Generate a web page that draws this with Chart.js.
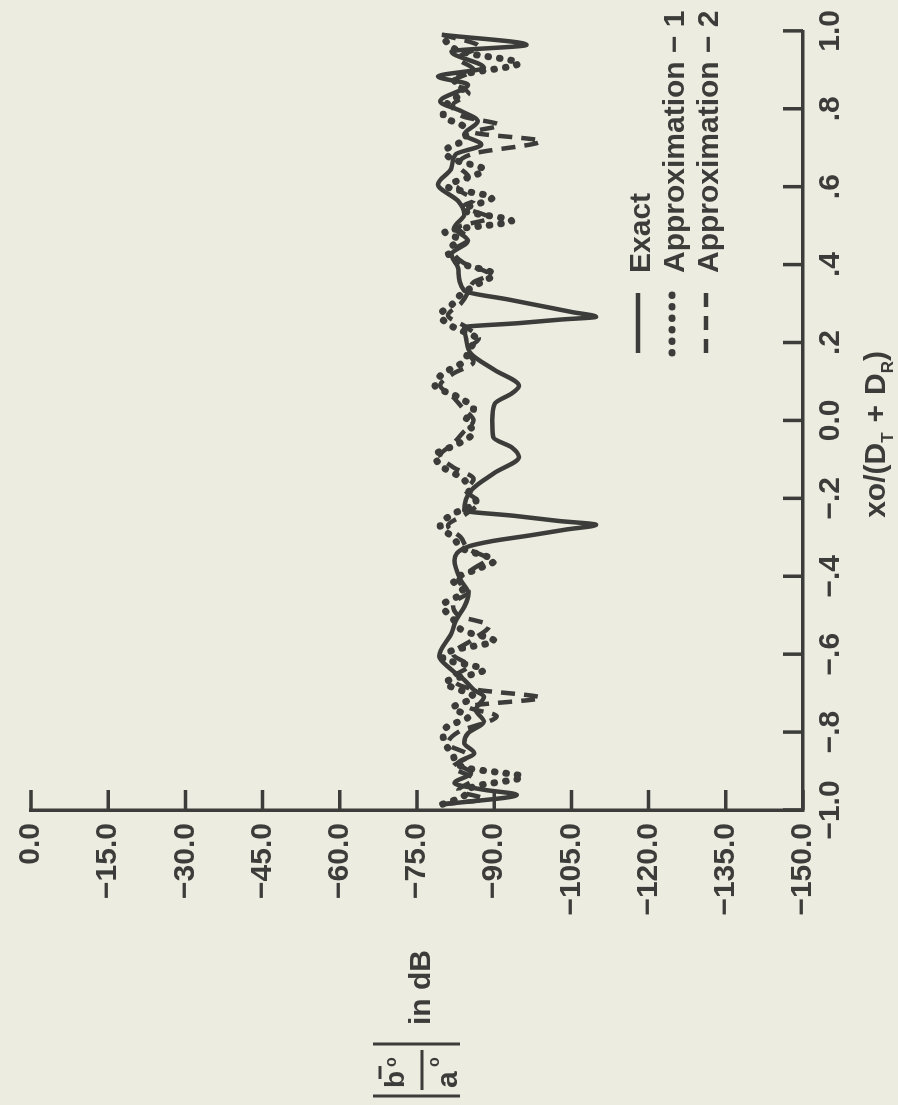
<!DOCTYPE html>
<html>
<head>
<meta charset="utf-8">
<title>Exact vs approximations</title>
<script src="https://cdn.jsdelivr.net/npm/chart.js@4.4.1/dist/chart.umd.min.js"></script>
<style>
    html, body { margin: 0; padding: 0; background: #ecece0; }
    body { width: 898px; height: 1105px; overflow: hidden; position: relative; }
    /* the scanned figure is printed on its side: draw it upright, then turn it */
    #plot {
        position: absolute; left: 0; top: 0; width: 1105px; height: 898px;
        transform-origin: 0 0; transform: translate(0, 1105px) rotate(-90deg);
    }
    #plot canvas { display: block; }
</style>
</head>
<body>
<div id="plot"><canvas id="tr-chart" width="1105" height="898"></canvas></div>
<script>
const xTickValues = [-1, -0.8, -0.6, -0.4, -0.2, 0, 0.2, 0.4, 0.6, 0.8, 1];
const xTickLabels = ["\u22121.0", "\u2212.8", "\u2212.6", "\u2212.4", "\u2212.2", "0.0", ".2", ".4", ".6", ".8", "1.0"];
const yTickValues = [0, -15, -30, -45, -60, -75, -90, -105, -120, -135, -150];
const yTickLabels = ["0.0", "\u221215.0", "\u221230.0", "\u221245.0", "\u221260.0", "\u221275.0",
    "\u221290.0", "\u2212105.0", "\u2212120.0", "\u2212135.0", "\u2212150.0"];

const seriesLabels = ["Exact", "Approximation \u2212 1", "Approximation \u2212 2"];

const exactXo = [-0.985, -0.961, -0.948, -0.931, -0.905, -0.880, -0.854, -0.828, -0.803, -0.773,
    -0.743, -0.709, -0.692, -0.666, -0.640, -0.605, -0.546, -0.512, -0.478, -0.444,
    -0.410, -0.359, -0.324, -0.31, -0.295, -0.28, -0.268, -0.258, -0.245, -0.231,
    -0.180, -0.135, -0.094, -0.07, -0.043, 0.0, 0.043, 0.07, 0.089, 0.13,
    0.171, 0.213, 0.239, 0.25, 0.259, 0.266, 0.278, 0.29, 0.31, 0.333,
    0.39, 0.426, 0.461, 0.495, 0.529, 0.563, 0.606, 0.648, 0.683, 0.708,
    0.734, 0.768, 0.794, 0.819, 0.862, 0.883, 0.905, 0.947, 0.964, 0.99];
const exactDb = [-80.5, -94.4, -88, -82.3, -85.5, -83, -86.1, -84.2, -84.9, -88,
    -86.4, -88, -86.1, -84.2, -81.7, -79.3, -81.7, -82.6, -84.2, -85,
    -83.5, -82.3, -84.9, -89.5, -97, -104, -109.8, -102.5, -94, -84.2,
    -85.5, -90, -94.8, -93.5, -89.8, -89.6, -90.1, -93.5, -94.8, -90,
    -85.5, -84.5, -84.2, -95, -103, -109.8, -105.2, -100.6, -92.9, -84.2,
    -83, -81.7, -84.9, -82.3, -84.2, -83, -79.1, -81.7, -82.5, -87.5,
    -84.2, -86.8, -83.6, -79.5, -84.9, -79.1, -88, -81.7, -96.3, -79.8];

const approx1Xo = [-0.985, -0.965, -0.94, -0.915, -0.89, -0.86, -0.83, -0.80, -0.785, -0.76,
    -0.738, -0.71, -0.673, -0.64, -0.61, -0.59, -0.566, -0.54, -0.51, -0.475,
    -0.44, -0.41, -0.385, -0.36, -0.33, -0.30, -0.27, -0.24, -0.21, -0.18,
    -0.15, -0.12, -0.09, -0.06, -0.03, 0.0, 0.03, 0.06, 0.09, 0.12,
    0.15, 0.18, 0.21, 0.24, 0.27, 0.30, 0.324, 0.355, 0.375, 0.405,
    0.435, 0.465, 0.484, 0.512, 0.54, 0.572, 0.60, 0.644, 0.67, 0.691,
    0.725, 0.755, 0.781, 0.815, 0.845, 0.88, 0.917, 0.945, 0.968, 0.99];
const approx1Db = [-80, -84, -86, -95.5, -84, -82, -80.5, -80, -81, -85,
    -82, -86, -80.5, -88, -80, -82, -90, -84, -82, -80,
    -84, -82, -86, -90, -84, -82, -79.5, -82, -86.5, -85,
    -84, -80, -78.5, -83, -86, -84.5, -86, -83, -78.5, -80,
    -84, -85, -86.5, -82, -79.5, -82, -83.6, -87.5, -90, -83,
    -81, -83, -80.4, -93.4, -84, -89.6, -81, -88, -82, -80.4,
    -84.5, -84, -80.1, -81, -84, -82, -94.8, -84, -81, -80];

const approx2Xo = [-0.985, -0.972, -0.95, -0.92, -0.89, -0.86, -0.83, -0.80, -0.759, -0.735,
    -0.712, -0.69, -0.66, -0.63, -0.60, -0.561, -0.527, -0.50, -0.47, -0.44,
    -0.41, -0.38, -0.355, -0.33, -0.30, -0.27, -0.24, -0.21, -0.18, -0.15,
    -0.12, -0.09, -0.06, -0.03, 0.0, 0.03, 0.06, 0.09, 0.12, 0.15,
    0.18, 0.21, 0.24, 0.27, 0.30, 0.33, 0.355, 0.375, 0.405, 0.435,
    0.465, 0.495, 0.52, 0.55, 0.565, 0.595, 0.625, 0.655, 0.685, 0.717,
    0.74, 0.758, 0.78, 0.81, 0.84, 0.87, 0.90, 0.93, 0.96, 0.99];
const approx2Db = [-80, -88, -83, -86, -82, -85, -81, -83, -90.5, -85,
    -99, -86, -82, -85, -82, -86, -89, -83, -82, -85,
    -83, -86, -88.6, -85, -83.5, -81, -84.5, -87, -84.5, -86,
    -82, -79.5, -82, -84, -86, -84, -82, -79.5, -82, -86,
    -84.5, -87, -84.5, -81, -83.5, -85, -86, -89, -84, -82,
    -85, -83, -89, -84, -86, -83, -85, -83, -86, -99,
    -86, -91, -84, -82, -85, -82, -86, -83, -87, -80];

const INK = "#3c3c3a";
const FONT = "'Liberation Sans', Arial, Helvetica, sans-serif";
const TICK_LEN = 20;

Chart.defaults.font.family = FONT;
Chart.defaults.font.size = 30;
Chart.defaults.font.weight = "bold";
Chart.defaults.color = INK;

function toPoints(xs, ys) {
    return xs.map((x, i) => ({ x, y: ys[i] }));
}

// tick marks point into the plot, like the original
const insideTicks = {
    id: "insideTicks",
    afterDraw(chart) {
        const { ctx, chartArea: area, scales } = chart;

        ctx.save();
        ctx.strokeStyle = INK;
        ctx.lineWidth = 3.5;
        ctx.beginPath();
        xTickValues.forEach((value) => {
            const px = scales.x.getPixelForValue(value);
            ctx.moveTo(px, area.bottom);
            ctx.lineTo(px, area.bottom - TICK_LEN);
        });
        yTickValues.forEach((value) => {
            const py = scales.y.getPixelForValue(value);
            ctx.moveTo(area.left, py);
            ctx.lineTo(area.left + TICK_LEN, py);
        });
        ctx.stroke();
        ctx.restore();
    },
};

function drawRun(ctx, parts, x, baseline) {
    parts.forEach(([text, size, drop, gap]) => {
        x += gap || 0;
        ctx.font = `bold ${size}px ${FONT}`;
        ctx.fillText(text, x, baseline + drop);
        x += ctx.measureText(text).width;
    });
}

function runWidth(ctx, parts) {
    return parts.reduce((sum, [text, size, , gap]) => {
        ctx.font = `bold ${size}px ${FONT}`;
        return sum + ctx.measureText(text).width + (gap || 0);
    }, 0);
}

// axis titles need sub/superscripts and a fraction, so they are drawn by hand
const axisTitles = {
    id: "axisTitles",
    afterDraw(chart) {
        const { ctx, chartArea: area } = chart;
        const cy = (area.top + area.bottom) / 2;

        ctx.save();
        ctx.fillStyle = INK;
        ctx.strokeStyle = INK;
        ctx.textBaseline = "alphabetic";
        ctx.textAlign = "left";

        const xTitle = [["xo/(D", 30, 0], ["T", 17, 8], ["+", 30, 0, 10], ["D", 30, 0, 10], ["R", 17, 8], [")", 30, 0]];
        const xCenter = (area.left + area.right) / 2 - 14;
        drawRun(ctx, xTitle, xCenter - runWidth(ctx, xTitle) / 2, 885);

        ctx.lineWidth = 3;
        ctx.beginPath();
        ctx.moveTo(9, cy - 44); ctx.lineTo(9, cy + 43);
        ctx.moveTo(61, cy - 44); ctx.lineTo(61, cy + 43);
        ctx.moveTo(15, cy + 5); ctx.lineTo(55, cy + 5);
        ctx.moveTo(26, cy - 37); ctx.lineTo(39, cy - 37);
        ctx.stroke();

        drawRun(ctx, [["b", 28, 0]], 17, cy - 13);
        drawRun(ctx, [["o", 16, 0]], 38, cy - 21);
        drawRun(ctx, [["a", 30, 0]], 17, cy + 40);
        drawRun(ctx, [["o", 16, 0]], 38, cy + 22);
        drawRun(ctx, [["in dB", 30, 0]], 80, cy + 13);

        ctx.restore();
    },
};

// legend sits inside the plot, next to the line samples
const legendInside = {
    id: "legendInside",
    afterDraw(chart) {
        const { ctx } = chart;
        const left = 752;
        const top = 638;

        chart.data.datasets.forEach((ds, i) => {
            const y = top + i * 34;

            ctx.save();
            ctx.strokeStyle = ds.borderColor;
            ctx.lineWidth = ds.borderWidth;
            ctx.lineCap = ds.borderCapStyle || "butt";
            ctx.setLineDash(ds.borderDash || []);
            ctx.beginPath();
            ctx.moveTo(left, y);
            ctx.lineTo(left + 60, y);
            ctx.stroke();

            ctx.setLineDash([]);
            ctx.fillStyle = INK;
            ctx.font = `bold 30px ${FONT}`;
            ctx.textBaseline = "alphabetic";
            ctx.fillText(ds.label, left + 80, y + 12);
            ctx.restore();
        });
    },
};

new Chart(document.getElementById("tr-chart"), {
    type: "line",
    data: {
        datasets: [
            {
                label: seriesLabels[0],
                data: toPoints(exactXo, exactDb),
                borderColor: INK,
                borderWidth: 4.5,
                pointRadius: 0,
                cubicInterpolationMode: "monotone",
            },
            {
                label: seriesLabels[1],
                data: toPoints(approx1Xo, approx1Db),
                borderColor: INK,
                borderWidth: 7,
                borderDash: [0.5, 11],
                borderCapStyle: "round",
                pointRadius: 0,
                cubicInterpolationMode: "monotone",
            },
            {
                label: seriesLabels[2],
                data: toPoints(approx2Xo, approx2Db),
                borderColor: INK,
                borderWidth: 4.5,
                borderDash: [14, 9],
                pointRadius: 0,
                cubicInterpolationMode: "monotone",
            },
        ],
    },
    options: {
        responsive: false,
        animation: false,
        devicePixelRatio: 1,
        layout: { padding: { top: 21, right: 29, left: 0, bottom: 0 } },
        plugins: {
            legend: { display: false },
            tooltip: { enabled: false },
        },
        scales: {
            x: {
                type: "linear",
                min: -1,
                max: 1,
                grid: { display: false, drawTicks: false },
                border: { display: true, color: INK, width: 3.5 },
                ticks: {
                    padding: 10,
                    autoSkip: false,
                    maxRotation: 0,
                    callback(value, index) {
                        return xTickLabels[index];
                    },
                },
                afterBuildTicks(scale) {
                    scale.ticks = xTickValues.map((value) => ({ value }));
                },
                afterFit(scale) {
                    scale.height = 95;
                },
            },
            y: {
                type: "linear",
                min: -150,
                max: 0,
                grid: { display: false, drawTicks: false },
                border: { display: true, color: INK, width: 3.5 },
                ticks: {
                    padding: 13,
                    autoSkip: false,
                    callback(value, index) {
                        return yTickLabels[index];
                    },
                },
                afterBuildTicks(scale) {
                    scale.ticks = yTickValues.map((value) => ({ value }));
                },
                afterFit(scale) {
                    scale.width = 295;
                },
            },
        },
    },
    plugins: [insideTicks, axisTitles, legendInside],
});
</script>
</body>
</html>
